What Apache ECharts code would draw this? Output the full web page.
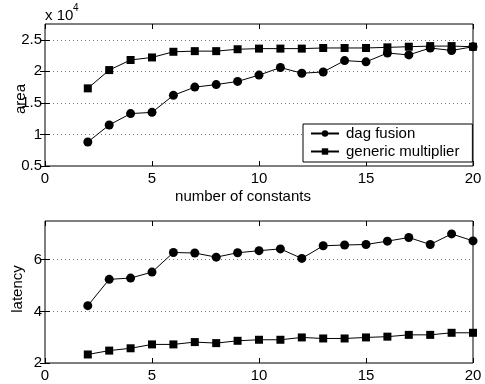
<!DOCTYPE html>
<html><head><meta charset="utf-8">
<script src="https://cdn.jsdelivr.net/npm/echarts@6/dist/echarts.min.js"></script>
<style>html,body{margin:0;padding:0;background:#fff}#c{width:485px;height:384px}</style>
</head><body><div id="c"></div>
<script>
var xs = [2,3,4,5,6,7,8,9,10,11,12,13,14,15,16,17,18,19,20];
var areaDag = [8800,11500,13300,13500,16200,17500,17900,18400,19400,20600,19700,19900,21700,21500,22900,22600,23700,23300,23900];
var areaGen = [17300,20200,21800,22200,23100,23200,23200,23500,23600,23600,23600,23700,23700,23700,23800,23900,24000,24000,23900];
var latDag = [4.22,5.24,5.29,5.52,6.28,6.26,6.10,6.27,6.35,6.42,6.05,6.54,6.57,6.59,6.72,6.86,6.59,7.00,6.73];
var latGen = [2.33,2.48,2.57,2.72,2.72,2.81,2.77,2.86,2.90,2.90,2.99,2.95,2.95,2.99,3.02,3.09,3.09,3.17,3.17];
var seriesNames = ['dag fusion','generic multiplier'];
var xTicks = [0,5,10,15,20];
var areaTicks = [5000,10000,15000,20000,25000];
var latTicks = [2,4,6];

function pairs(a){ return xs.map(function(x,i){return [x,a[i]];}); }
var font = 'Liberation Sans, Arial, sans-serif';
var FS = 15;
var lbl = {color:'#000', fontFamily:font, fontSize:FS};
function xAx(gi, pos, show){
  return {type:'value', gridIndex:gi, position:pos, min:0, max:20, interval:5,
    axisLine:{show:false}, axisTick:{show:true, inside:true, length:5, lineStyle:{color:'#000'}},
    axisLabel: show ? Object.assign({margin:5}, lbl) : {show:false},
    splitLine:{show:false}};
}
function yAx(gi, pos, show, mn, mx, iv, ticks, fmt){
  return {type:'value', gridIndex:gi, position:pos, min:mn, max:mx, interval:iv,
    axisLine:{show:false},
    axisTick:{show:true, inside:true, length:5, customValues:ticks, lineStyle:{color:'#000'}},
    axisLabel: show ? Object.assign({margin:3, customValues:ticks, formatter:fmt}, lbl) : {show:false},
    splitLine:{show: show, lineStyle:{color:'#777', type:[1,3], width:1}}};
}
var chart = echarts.init(document.getElementById('c'), null, {renderer:'canvas'});
var line = {color:'#000', width:1};
chart.setOption({
  animation:false,
  backgroundColor:'#fff',
  grid:[
    {left:45, top:24, width:428, height:142, show:true, borderColor:'#000', borderWidth:1, backgroundColor:'transparent'},
    {left:45, top:221, width:428, height:142, show:true, borderColor:'#000', borderWidth:1, backgroundColor:'transparent'}
  ],
  xAxis:[xAx(0,'bottom',true), xAx(0,'top',false), xAx(1,'bottom',true), xAx(1,'top',false)],
  yAxis:[
    yAx(0,'left',true,5000,27500,5000,areaTicks,function(v){return (v/10000).toString();}),
    yAx(0,'right',false,5000,27500,5000,areaTicks),
    yAx(1,'left',true,2,7.5,2,latTicks,function(v){return v.toString();}),
    yAx(1,'right',false,2,7.5,2,latTicks)
  ],
  legend:{
    data:seriesNames, orient:'vertical', left:303, top:124,
    itemWidth:28, itemHeight:8, itemGap:3,
    padding:[2,13,3,7], borderColor:'#000', borderWidth:1, backgroundColor:'#fff',
    textStyle:{color:'#000', fontFamily:font, fontSize:FS, lineHeight:15, padding:[0,0,0,2]}
  },
  graphic:[
    {type:'text', x:45, y:16, style:{text:'x 10', fontFamily:font, fontSize:FS, fill:'#000', verticalAlign:'middle'}},
    {type:'text', x:73, y:8, style:{text:'4', fontFamily:font, fontSize:10, fill:'#000', verticalAlign:'middle'}},
    {type:'text', x:21, y:99, rotation:Math.PI/2, style:{text:'area', fontFamily:font, fontSize:FS, fill:'#000', align:'center', verticalAlign:'middle'}},
    {type:'text', x:243, y:197, style:{text:'number of constants', fontFamily:font, fontSize:FS, fill:'#000', align:'center', verticalAlign:'middle'}},
    {type:'text', x:18, y:289, rotation:Math.PI/2, style:{text:'latency', fontFamily:font, fontSize:FS, fill:'#000', align:'center', verticalAlign:'middle'}}
  ],
  series:[
    {name:seriesNames[0], type:'line', xAxisIndex:0, yAxisIndex:0, data:pairs(areaDag), symbol:'circle', symbolSize:9, lineStyle:line, itemStyle:{color:'#000'}},
    {name:seriesNames[1], type:'line', xAxisIndex:0, yAxisIndex:0, data:pairs(areaGen), symbol:'rect', symbolSize:8, lineStyle:line, itemStyle:{color:'#000'}},
    {name:seriesNames[0], type:'line', xAxisIndex:2, yAxisIndex:2, data:pairs(latDag), symbol:'circle', symbolSize:9, lineStyle:line, itemStyle:{color:'#000'}},
    {name:seriesNames[1], type:'line', xAxisIndex:2, yAxisIndex:2, data:pairs(latGen), symbol:'rect', symbolSize:8, lineStyle:line, itemStyle:{color:'#000'}}
  ]
});
</script></body></html>
